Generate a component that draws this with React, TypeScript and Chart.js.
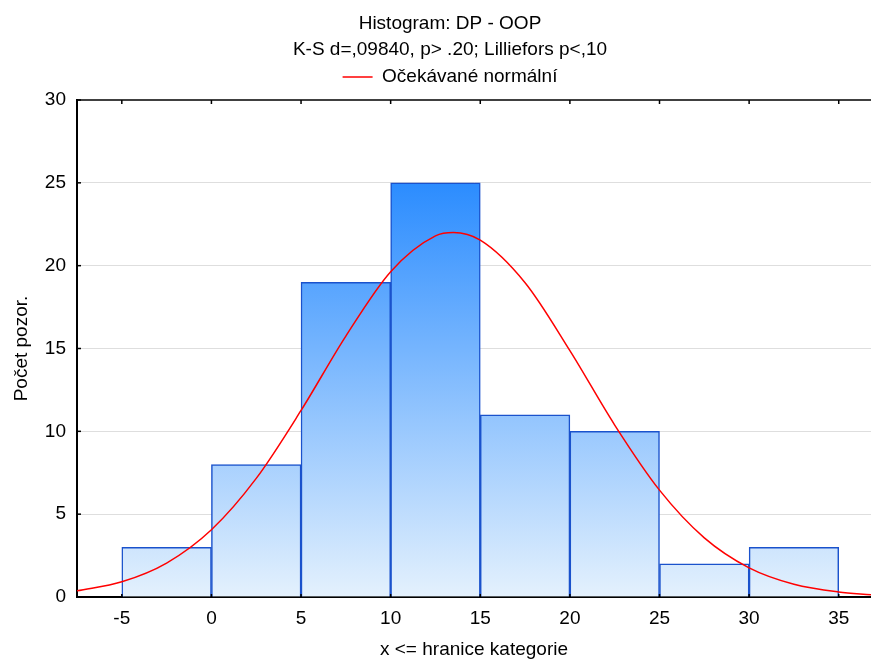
import React, { useEffect, useRef } from 'react';
import { Chart, registerables } from 'chart.js';

Chart.register(...registerables);

// ---- data ----
const binCenters = [-2.5, 2.5, 7.5, 12.5, 17.5, 22.5, 27.5, 32.5];
const binCounts = [3, 8, 19, 25, 11, 10, 2, 3];

// expected normal curve
const curveX = [-7.5, -5, -2.5, 0, 2.5, 5, 7.5, 10, 12.5, 13.5, 15, 17.5, 20, 22.5, 25, 27.5, 30, 32.5, 35, 36.8];
const curveY = [0.37, 0.92, 2.05, 4.06, 7.16, 11.26, 15.75, 19.64, 21.8, 22.0, 21.54, 18.97, 14.87, 10.38, 6.45, 3.57, 1.76, 0.77, 0.3, 0.14];

const xTicks = [-5, 0, 5, 10, 15, 20, 25, 30, 35];
const yTicks = [0, 5, 10, 15, 20, 25, 30];

const titleText = 'Histogram: DP - OOP';
const subtitleText = 'K-S d=,09840, p> .20; Lilliefors p<,10';
const legendLabel = 'Očekávané normální';
const xTitle = 'x <= hranice kategorie';
const yTitle = 'Počet pozor.';

const FONT = "'Liberation Sans', Arial, sans-serif";
const SHIFT_TOP = 3.5;
const SHIFT_LEFT = 29;

const framePlugin = {
  id: 'frame',
  afterLayout(chart: any) {
    chart.boxes.forEach((b: any) => {
      if (b.position === 'top' && !b.axis) {
        b.top -= SHIFT_TOP;
        b.bottom -= SHIFT_TOP;
        b.left += SHIFT_LEFT;
      }
    });
  },
  afterDraw(chart: any) {
    const { ctx, chartArea } = chart;
    const xs = chart.scales.x;
    const ys = chart.scales.y;
    ctx.save();
    ctx.strokeStyle = '#000';
    ctx.lineWidth = 1.5;
    ctx.beginPath();
    ctx.moveTo(chartArea.left, chartArea.top);
    ctx.lineTo(chartArea.right, chartArea.top);
    ctx.stroke();
    ctx.lineWidth = 1.5;
    xTicks.forEach((v) => {
      const px = xs.getPixelForValue(v);
      ctx.beginPath();
      ctx.moveTo(px, chartArea.top);
      ctx.lineTo(px, chartArea.top + 4);
      ctx.moveTo(px, chartArea.bottom);
      ctx.lineTo(px, chartArea.bottom - 3);
      ctx.stroke();
    });
    yTicks.forEach((v) => {
      const py = ys.getPixelForValue(v);
      ctx.beginPath();
      ctx.moveTo(chartArea.left, py);
      ctx.lineTo(chartArea.left + 4, py);
      ctx.stroke();
    });
    ctx.restore();
  },
};

export default function App() {
  const ref = useRef<HTMLCanvasElement | null>(null);

  useEffect(() => {
    if (!ref.current) return;
    const chart = new Chart(ref.current, {
      type: 'bar',
      data: {
        datasets: [
          {
            type: 'line',
            label: legendLabel,
            data: curveX.map((x, i) => ({ x, y: curveY[i] })),
            borderColor: '#ff0000',
            backgroundColor: '#ff0000',
            borderWidth: 1.5,
            pointRadius: 0,
            cubicInterpolationMode: 'monotone',
            fill: false,
            order: 0,
          } as any,
          {
            type: 'bar',
            label: 'bars',
            data: binCenters.map((x, i) => ({ x, y: binCounts[i] })),
            backgroundColor: (c: any) => {
              const { chart: ch } = c;
              const area = ch.chartArea;
              if (!area) return 'rgb(150,200,252)';
              const g = ch.ctx.createLinearGradient(0, area.top, 0, area.bottom);
              g.addColorStop(0, 'rgb(6,120,255)');
              g.addColorStop(1, 'rgb(228,241,253)');
              return g;
            },
            borderColor: '#1a52cc',
            borderWidth: 1.5,
            barPercentage: 1,
            categoryPercentage: 1,
            order: 1,
          } as any,
        ],
      },
      options: {
        animation: false,
        responsive: true,
        maintainAspectRatio: false,
        events: [],
        layout: { padding: { top: SHIFT_TOP, left: 0, right: 0, bottom: 0 } },
        font: { family: FONT, size: 19 },
        plugins: {
          title: {
            display: true,
            text: titleText,
            color: '#000',
            font: { family: FONT, size: 19, weight: 'normal' },
            padding: { top: 12, bottom: 3.3 },
          },
          subtitle: {
            display: true,
            text: subtitleText,
            color: '#000',
            font: { family: FONT, size: 19, weight: 'normal' },
            padding: { top: 0, bottom: 0 },
          },
          legend: {
            display: true,
            position: 'top',
            labels: {
              filter: (item: any) => item.datasetIndex === 0,
              usePointStyle: true,
              pointStyle: 'line',
              pointStyleWidth: 30,
              boxWidth: 30,
              padding: 6.6,
              color: '#000',
              font: { family: FONT, size: 19 },
            },
          },
          tooltip: { enabled: false },
        },
        scales: {
          x: {
            type: 'linear',
            min: -7.5,
            max: 36.8,
            offset: false,
            afterBuildTicks: (s: any) => {
              s.ticks = xTicks.map((v) => ({ value: v }));
            },
            afterFit: (s: any) => {
              s.height = 64;
            },
            grid: { display: true, drawOnChartArea: false, drawTicks: false, offset: false },
            border: { display: true, color: '#000', width: 2 },
            ticks: {
              padding: 10.6,
              color: '#000',
              font: { family: FONT, size: 19 },
              maxRotation: 0,
              autoSkip: false,
            },
            title: {
              display: true,
              text: xTitle,
              color: '#000',
              font: { family: FONT, size: 19 },
              padding: { top: 8, bottom: 0 },
            },
          },
          y: {
            type: 'linear',
            min: 0,
            max: 30,
            afterBuildTicks: (s: any) => {
              s.ticks = yTicks.map((v) => ({ value: v }));
            },
            afterFit: (s: any) => {
              s.width = 77;
            },
            grid: {
              drawTicks: false,
              color: (c: any) =>
                c.tick && (c.tick.value === 0 || c.tick.value === 30) ? 'rgba(0,0,0,0)' : '#dedede',
              lineWidth: 1,
            },
            border: { display: true, color: '#000', width: 2 },
            ticks: {
              padding: 11,
              color: '#000',
              font: { family: FONT, size: 19 },
            },
            title: {
              display: true,
              text: yTitle,
              color: '#000',
              font: { family: FONT, size: 19 },
              padding: { top: 10, bottom: 12 },
            },
          },
        },
      } as any,
      plugins: [framePlugin],
    });
    return () => chart.destroy();
  }, []);

  return (
    <div style={{ position: 'fixed', left: 0, top: 0, width: 871, height: 661, background: '#fff' }}>
      <canvas ref={ref} />
    </div>
  );
}
